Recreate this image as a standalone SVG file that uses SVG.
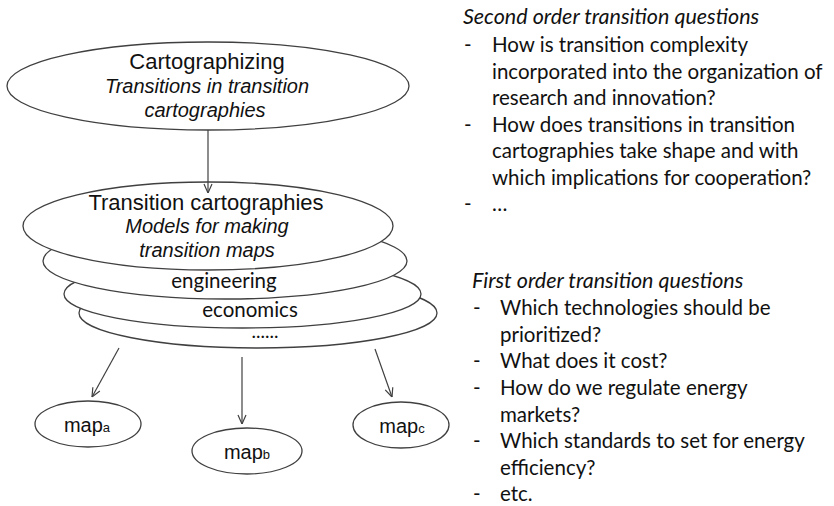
<svg xmlns="http://www.w3.org/2000/svg" width="834" height="506" viewBox="0 0 834 506">
<defs>
<style>
.shape{fill:#ffffff;stroke:#404040;stroke-width:1.3}
.ar{font-family:"Liberation Sans",Arial,sans-serif;fill:#111;text-anchor:middle}
.cal{font-family:Lato,"Open Sans",sans-serif;fill:#111}
.it{font-style:italic}
.hd{font-size:21.5px}
.conn{stroke:#404040;stroke-width:1.2;fill:none;marker-end:url(#arr)}
</style>
<marker id="arr" viewBox="0 0 10 10" refX="10" refY="5" markerWidth="10" markerHeight="10" markerUnits="userSpaceOnUse" orient="auto">
<path d="M1,1 L10,5 L1,9" fill="none" stroke="#404040" stroke-width="1.2"/>
</marker>
</defs>
<rect width="834" height="506" fill="#ffffff"/>

<g id="node-cartographizing">
<ellipse class="shape" cx="208" cy="86" rx="201" ry="44"/>
<text class="ar" x="207" y="69" font-size="22">Cartographizing</text>
<text class="ar it" x="207" y="93" font-size="20">Transitions in transition</text>
<text class="ar it" x="205" y="117" font-size="20">cartographies</text>
</g>

<g id="node-more">
<ellipse class="shape" cx="258" cy="313" rx="179" ry="35"/>
<text class="cal" x="265" y="338" font-size="19" text-anchor="middle">......</text>
</g>
<g id="node-economics">
<ellipse class="shape" cx="242.5" cy="294" rx="178.5" ry="34"/>
<text class="cal" x="250" y="317" font-size="20.5" text-anchor="middle">economics</text>
</g>
<g id="node-engineering">
<ellipse class="shape" cx="225" cy="261" rx="182" ry="38"/>
<text class="cal" x="224" y="288" font-size="20.5" text-anchor="middle">engineering</text>
</g>
<g id="node-transition-cartographies">
<ellipse class="shape" cx="208" cy="226" rx="185" ry="44"/>
<text class="ar" x="206" y="210" font-size="22">Transition cartographies</text>
<text class="ar it" x="207" y="233" font-size="20">Models for making</text>
<text class="ar it" x="207" y="257" font-size="20">transition maps</text>
</g>

<g id="node-map-a">
<ellipse class="shape" cx="88" cy="424" rx="53" ry="23"/>
<text class="ar" x="87" y="432" font-size="20">map<tspan font-size="13">a</tspan></text>
</g>
<g id="node-map-b">
<ellipse class="shape" cx="247" cy="451" rx="55" ry="23"/>
<text class="ar" x="247" y="459" font-size="20">map<tspan font-size="13">b</tspan></text>
</g>
<g id="node-map-c">
<ellipse class="shape" cx="401" cy="425" rx="48" ry="23"/>
<text class="ar" x="402" y="433" font-size="20">map<tspan font-size="13">c</tspan></text>
</g>

<g id="connectors">
<line class="conn" x1="208" y1="130" x2="208" y2="193"/>
<line class="conn" x1="119" y1="348" x2="92" y2="397"/>
<line class="conn" x1="242" y1="357" x2="242" y2="424"/>
<line class="conn" x1="375" y1="349" x2="392" y2="397"/>
</g>

<g id="second-order-questions" class="cal" font-size="20.5">
<text class="it hd" x="463" y="24">Second order transition questions</text>
<text x="464" y="52">-</text><text x="492" y="52">How is transition complexity</text>
<text x="492" y="79">incorporated into the organization of</text>
<text x="492" y="105">research and innovation?</text>
<text x="464" y="132">-</text><text x="492" y="132">How does transitions in transition</text>
<text x="492" y="158">cartographies take shape and with</text>
<text x="492" y="185">which implications for cooperation?</text>
<text x="464" y="211">-</text><text x="492" y="211">…</text>
</g>

<g id="first-order-questions" class="cal" font-size="20.5">
<text class="it hd" x="472" y="288">First order transition questions</text>
<text x="473" y="315">-</text><text x="500" y="315">Which technologies should be</text>
<text x="500" y="342">prioritized?</text>
<text x="473" y="368">-</text><text x="500" y="368">What does it cost?</text>
<text x="473" y="395">-</text><text x="500" y="395">How do we regulate energy</text>
<text x="500" y="422">markets?</text>
<text x="473" y="448">-</text><text x="500" y="448">Which standards to set for energy</text>
<text x="500" y="475">efficiency?</text>
<text x="473" y="501">-</text><text x="500" y="501">etc.</text>
</g>
</svg>
